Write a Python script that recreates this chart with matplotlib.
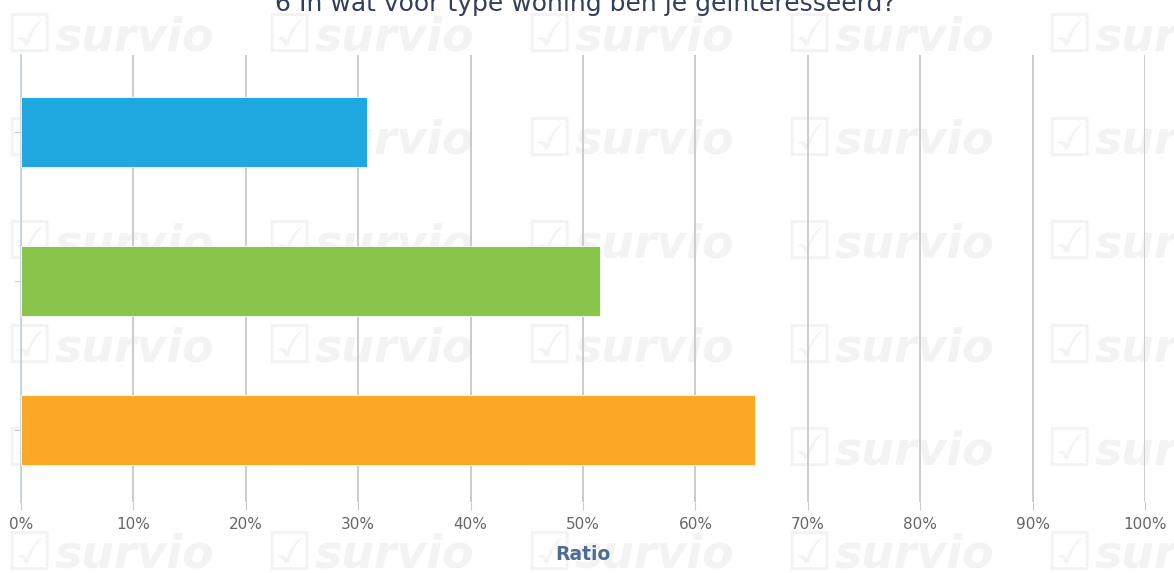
import matplotlib.pyplot as plt
from matplotlib.ticker import FuncFormatter

# data
categories = ["A", "B", "C"]
ratios = [30.8, 51.5, 65.3]
bar_colors = ["#1fa8e0", "#88c54a", "#fba924"]
x_ticks = [0, 10, 20, 30, 40, 50, 60, 70, 80, 90, 100]
title = "6 In wat voor type woning ben je geïnteresseerd?"

fig = plt.figure(figsize=(11.74, 5.73), dpi=100)
W, H = 1174, 573

# watermark behind everything
for col in range(5):
    for row in range(6):
        x0 = 5 + col * 260
        y0 = 38 + row * 103.5
        fig.text(x0 / W, 1 - y0 / H, "☑", fontsize=38, color="#f3f3f3",
                 ha="left", va="center", zorder=-2)
        fig.text((x0 + 50) / W, 1 - y0 / H, "survio", fontsize=33,
                 fontweight="bold", style="italic", color="#f3f3f3",
                 ha="left", va="center", zorder=-2)

ax = fig.add_axes([21 / W, (573 - 502) / H, (1145 - 21) / W, (502 - 55) / H])
ax.patch.set_alpha(0)

ypos = list(range(len(categories)))
ax.barh(ypos, ratios, height=0.47, color=bar_colors, edgecolor="white",
        linewidth=0.6, zorder=3)

ax.set_xlim(0, 100)
ax.set_ylim(2.483, -0.517)
ax.set_xticks(x_ticks)
ax.xaxis.set_major_formatter(FuncFormatter(lambda v, p: f"{v:.0f}%"))
ax.set_yticks(ypos)
ax.set_yticklabels([])
ax.grid(axis="x", color="#c8c8c8", linewidth=1.3, zorder=1)
ax.set_axisbelow(True)

for s in ["top", "right", "bottom"]:
    ax.spines[s].set_visible(False)
ax.spines["left"].set_color("#c0d0e0")
ax.spines["left"].set_linewidth(1.2)

ax.tick_params(axis="x", length=6, color="#c8c8c8", labelsize=11,
               labelcolor="#666666", pad=5)
ax.tick_params(axis="y", length=5, color="#c0d0e0")

ax.set_xlabel("Ratio", fontsize=13.5, fontweight="bold", color="#4d6d94",
              labelpad=9)

fig.text(585 / W, 1 - 4 / H, title, fontsize=18, color="#333f58",
         ha="center", va="center")

fig.savefig("out.png", dpi=100)
